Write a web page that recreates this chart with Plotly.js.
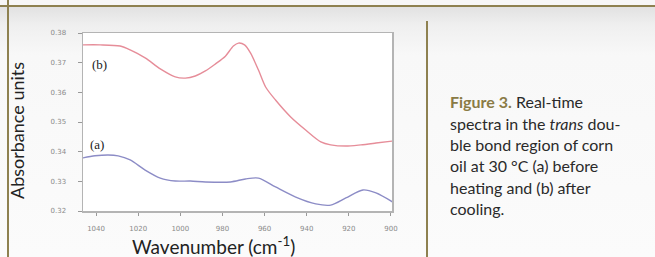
<!DOCTYPE html>
<html><head><meta charset="utf-8">
<script src="https://cdn.plot.ly/plotly-3.0.1.min.js"></script>
<style>
html,body{margin:0;padding:0;width:655px;height:257px;overflow:hidden;}
body{position:relative;background:linear-gradient(to bottom,#f7f7f7 0px,#f7f7f7 6px,#e2e2e2 7px,#efefef 25px,#f8f8f8 55px,#fbfbfb 257px);}
.hl{position:absolute;left:0;top:5px;width:655px;height:2px;background:#8e8150;}
.vl{position:absolute;left:7px;top:0;width:2px;height:257px;background:#8e8150;}
.dv{position:absolute;left:426px;top:21px;width:2px;height:236px;background:#8e8150;}
#chart{position:absolute;left:0;top:0;width:655px;height:257px;}
</style></head>
<body>
<div class="hl"></div><div class="vl"></div><div class="dv"></div>
<div id="chart"></div>
<script>
// ---- data ----
const wavenumberB = [1046.2,1038.1,1028.6,1023.8,1016.7,1009.5,1002.4,997.6,992.9,988.1,983.3,978.6,974.8,972.4,969.5,966.7,962.9,959.5,954.8,947.6,940.5,933.3,928.6,921.4,914.3,907.1,899.1];
const absorbanceB = [0.3760,0.3760,0.3756,0.3743,0.3716,0.3679,0.3652,0.3648,0.3655,0.3672,0.3696,0.3722,0.3756,0.3766,0.3760,0.3733,0.3675,0.3618,0.3574,0.3517,0.3473,0.3433,0.3423,0.3419,0.3423,0.3429,0.3436];
const wavenumberA = [1046.2,1040.5,1034.3,1029.5,1023.8,1016.7,1009.5,1002.4,995.2,988.1,976.2,969.1,962.9,954.8,945.2,935.7,928.6,921.4,913.3,907.1,899.1];
const absorbanceA = [0.3379,0.3386,0.3389,0.3386,0.3372,0.3338,0.3311,0.3301,0.3301,0.3298,0.3298,0.3308,0.3311,0.3281,0.3247,0.3224,0.3220,0.3244,0.3271,0.3261,0.3230];
const xTicks = [1040,1020,1000,980,960,940,920,900];
const yTicks = [0.32,0.33,0.34,0.35,0.36,0.37,0.38];
const seriesLabels = ['(a) before heating','(b) after cooling'];
const yTitle = 'Absorbance units';
const xTitle = 'Wavenumber (cm<sup>-1</sup>)';
const captionLines = [
  '<b><span style="color:#8a7b45">Figure 3.</span></b> Real-time',
  'spectra in the <i>trans</i> dou-',
  'ble bond region of corn',
  'oil at 30 °C (a) before',
  'heating and (b) after',
  'cooling.'
];

// ---- layout helpers (pixel -> paper) ----
const L=83, R=392, T=33, B=211;
const px = x => (x-L)/(R-L);
const py = y => (B-y)/(B-T);

const traces = [
  {x:wavenumberA, y:absorbanceA, name:seriesLabels[0], mode:'lines', line:{color:'#8c8cc6', width:1.4, shape:'spline', smoothing:0.8}},
  {x:wavenumberB, y:absorbanceB, name:seriesLabels[1], mode:'lines', line:{color:'#e68d99', width:1.4, shape:'spline', smoothing:0.8}}
];

const ann = [
  {text:'(b)', x:px(99), y:py(64), font:{family:'Liberation Serif', size:13, color:'#222'}},
  {text:'(a)', x:px(97), y:py(144), font:{family:'Liberation Serif', size:13, color:'#222'}},
  {text:yTitle, x:px(17), y:py(131), textangle:-90, font:{family:'Lato', size:18, color:'#222'}},
  {text:xTitle, x:px(213), y:py(245), font:{family:'Lato', size:19, color:'#222'}}
];
captionLines.forEach((t,i)=>{
  ann.push({text:t, x:px(448), y:py(102+i*21.3), xanchor:'left', font:{family:'Lato', size:16, color:'#2a2a2a'}});
});
ann.forEach(a=>{a.xref='paper'; a.yref='paper'; a.showarrow=false; if(!a.xanchor) a.xanchor='center'; a.yanchor='middle';});

const layout = {
  width:655, height:257,
  margin:{l:L, r:655-R, t:T, b:257-B, pad:0},
  paper_bgcolor:'rgba(0,0,0,0)', plot_bgcolor:'#ffffff',
  showlegend:false,
  xaxis:{range:[1046.2,899.5], tickvals:xTicks, ticktext:xTicks.map(String), showgrid:false, zeroline:false,
         showline:true, mirror:true, linecolor:'#b4b4b4', linewidth:1.5, ticks:'outside', ticklen:3, tickcolor:'#999',
         tickfont:{family:'DejaVu Sans', size:7, color:'#8a8a8a'}, ticklabelstandoff:7},
  yaxis:{range:[0.32,0.38], tickvals:yTicks, tickformat:'.2f', showgrid:false, zeroline:false,
         showline:true, mirror:true, linecolor:'#b4b4b4', linewidth:1.5, ticks:'outside', ticklen:4, tickcolor:'#999',
         tickfont:{family:'DejaVu Sans', size:7, color:'#8a8a8a'}, ticklabelstandoff:10},
  annotations:ann
};
Plotly.newPlot('chart', traces, layout, {staticPlot:true, displayModeBar:false});
</script>
</body></html>
